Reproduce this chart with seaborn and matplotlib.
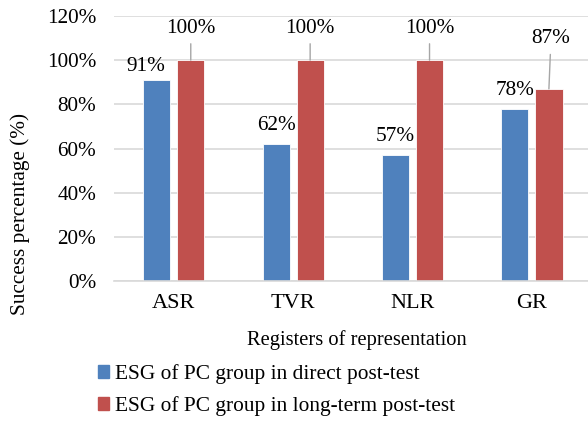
import pandas as pd
import seaborn as sns
import matplotlib.pyplot as plt
from matplotlib.patches import Patch

# data
registers = ['ASR', 'TVR', 'NLR', 'GR']
direct = [91, 62, 57, 78]
long_term = [100, 100, 100, 87]
series = ['ESG of PC group in direct post-test', 'ESG of PC group in long-term post-test']
colors = ['#4F81BD', '#C0504D']

df = pd.DataFrame({
    'register': registers * 2,
    'value': [v / 100 for v in direct + long_term],
    'series': [series[0]] * 4 + [series[1]] * 4,
})

sns.set_style('white')
plt.rcParams['font.family'] = ['Liberation Serif', 'DejaVu Serif']
plt.rcParams['font.size'] = 15.3
plt.rcParams['text.color'] = 'black'

fig = plt.figure(figsize=(5.88, 4.21), dpi=100)
ax = fig.add_axes([0.194, 0.3325, 0.806, 0.6295])

sns.barplot(data=df, x='register', y='value', hue='series', palette=colors,
            saturation=1, width=0.57, gap=0.2, edgecolor='white', linewidth=0.6,
            legend=False, ax=ax)

ax.set_ylim(0, 1.2)
ax.set_xlim(-0.5, 3.47)
ax.set_yticks([i / 10 for i in range(0, 13, 2)])
ax.set_yticklabels([f'{i * 10}%' for i in range(0, 13, 2)])
ax.yaxis.grid(True, color='#D9D9D9', linewidth=1.2)
ax.set_axisbelow(True)
for s in ['top', 'right', 'left']:
    ax.spines[s].set_visible(False)
ax.spines['bottom'].set_color('#D9D9D9')
ax.spines['bottom'].set_linewidth(1.2)
ax.tick_params(axis='y', length=0, pad=13, labelcolor='black', labelsize=15.3)
ax.tick_params(axis='x', length=0, pad=9, labelcolor='black', labelsize=16)
ax.set_xlabel('Registers of representation', fontsize=14.8, color='black')
ax.xaxis.set_label_coords(0.513, -0.185)
ax.set_ylabel('')
fig.text(20 / 588, 1 - 214 / 421, 'Success percentage (%)', rotation=90,
         ha='center', va='center', fontsize=15.3)

# labels for direct post-test bars
blue_bars = ax.patches[:4]
red_bars = ax.patches[4:8]
for i, (b, v) in enumerate(zip(blue_bars, direct)):
    dx, dy = (-8, 10) if i == 0 else (0, 13.5)
    ax.annotate(f'{v}%', (b.get_x() + b.get_width() / 2, b.get_height()),
                xytext=(dx, dy), textcoords='offset points',
                ha='center', va='center')

# labels for long-term bars, with leader lines
for i, (b, v) in enumerate(zip(red_bars, long_term)):
    x = b.get_x() + b.get_width() / 2
    off = 23 if v == 100 else 36
    dx = 0 if v == 100 else 1.5
    ax.annotate(f'{v}%', (x, b.get_height()), xytext=(dx, off),
                textcoords='offset points', ha='center', va='center',
                arrowprops=dict(arrowstyle='-', color='#A6A6A6', lw=1,
                                shrinkA=2, shrinkB=0))

handles = [Patch(color=c) for c in colors]
fig.legend(handles, series, loc='upper left', bbox_to_anchor=(0.166, 0.136),
           frameon=False, handlelength=0.55, handleheight=0.55, fontsize=15.4,
           handletextpad=0.25, labelspacing=0.6, borderaxespad=0, borderpad=0)

fig.savefig('out.png', dpi=100)
